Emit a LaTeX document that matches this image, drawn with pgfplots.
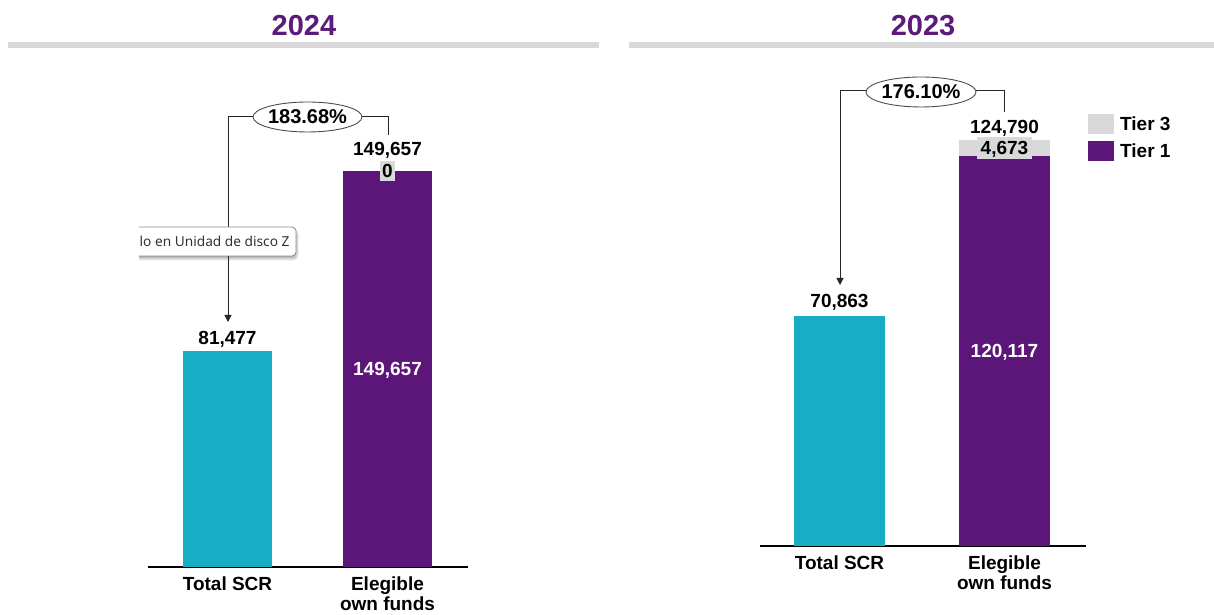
\documentclass[border=0pt]{standalone}
\usepackage{fontspec}
\setmainfont{Liberation Sans}
\newfontfamily\tipfont{Noto Sans}
\usepackage{pgfplots}
\pgfplotsset{compat=1.18}
\usetikzlibrary{arrows.meta,shadows.blur}
\definecolor{scr}{RGB}{23,173,197}
\definecolor{tierone}{RGB}{92,21,120}
\definecolor{tierthree}{RGB}{217,217,217}
\definecolor{ttl}{RGB}{92,26,123}
\definecolor{rulegray}{RGB}{217,217,217}
\newcommand\lbl{\fontsize{19}{20}\selectfont\bfseries}
\pgfplotsset{
  fundsaxis/.style={
    scale only axis, clip=false,
    ybar stacked, ymin=0,
    axis x line*=bottom, axis y line=none,
    x axis line style={-, line width=1.1pt, black},
    xtick={0,1}, xticklabels={Total SCR, {Elegible\\own funds}},
    major tick length=0pt,
    xticklabel style={align=center, font=\lbl, inner sep=0pt, yshift=-10pt},
    ytick=\empty,
  }
}
\begin{document}
\begin{tikzpicture}[x=1pt,y=1pt]
\path[use as bounding box] (0,0) rectangle (1214,615);
% titles
\fill[rulegray] (8,567) rectangle (599,573);
\fill[rulegray] (629,567) rectangle (1214,573);
\node[anchor=base, inner sep=0pt, text=ttl, font=\fontsize{29}{32}\selectfont\bfseries] at (304,579) {2024};
\node[anchor=base, inner sep=0pt, text=ttl, font=\fontsize{29}{32}\selectfont\bfseries] at (923,579) {2023};

% ---------- 2024 ----------
\begin{axis}[fundsaxis,
  at={(147.5pt,48pt)}, anchor=south west,
  width=320pt, height=507pt,
  xmin=-0.5, xmax=1.5, ymax=191465,
  bar width=0.556]
\addplot[fill=scr, draw=none, forget plot] coordinates {(0,81477) (1,0)};
\addplot[fill=tierone, draw=none] coordinates {(0,0) (1,149657)};
\addplot[fill=tierthree, draw=none] coordinates {(0,0) (1,0)};
\coordinate (La) at (axis cs:0,81477);
\coordinate (Lb) at (axis cs:1,149657);
\coordinate (Lc) at (axis cs:1,74828);
\end{axis}
\node[anchor=base, yshift=7pt, font=\lbl] at (La) {81,477};
\node[anchor=base, yshift=15pt, font=\lbl] at (Lb) {149,657};
\node[fill=tierthree, inner xsep=2.6pt, inner ysep=3.2pt, text depth=0pt, font=\lbl] at (Lb) {0};
\node[text=white, text depth=0pt, font=\lbl] at (Lc) {149,657};

% ---------- 2023 ----------
\begin{axis}[fundsaxis,
  at={(760pt,69pt)}, anchor=south west,
  width=326pt, height=486pt,
  xmin=-0.4818, xmax=1.494, ymax=149538,
  bar width=0.5515,
  reverse legend,
  legend image code/.code={\fill[#1] (0pt,-10pt) rectangle (26pt,10pt);},
  legend style={draw=none, fill=none, at={(1.006,0.889)}, anchor=north west,
    font=\lbl, row sep=7pt, column sep=6pt, inner sep=0pt,
    nodes={inner sep=0pt}},
  legend cell align=left]
\addplot[fill=scr, draw=none, forget plot] coordinates {(0,70863) (1,0)};
\addplot[fill=tierone, draw=none] coordinates {(0,0) (1,120117)};
\addplot[fill=tierthree, draw=none] coordinates {(0,0) (1,4673)};
\legend{Tier 1, Tier 3}
\coordinate (Ra) at (axis cs:0,70863);
\coordinate (Rb) at (axis cs:1,124790);
\coordinate (Rc) at (axis cs:1,122453);
\coordinate (Rd) at (axis cs:1,60058);
\end{axis}
\node[anchor=base, yshift=8pt, font=\lbl] at (Ra) {70,863};
\node[anchor=base, yshift=7pt, font=\lbl] at (Rb) {124,790};
\node[fill=tierthree, inner xsep=3.7pt, inner ysep=4pt, text depth=0pt, font=\lbl] at (Rc) {4,673};
\node[text=white, text depth=0pt, font=\lbl] at (Rd) {120,117};

% brackets
\draw[line width=1pt, black!85, -{Triangle[length=7pt,width=7pt]}] (388,480) -- (388,498) -- (228,498) -- (228,293);
\draw[line width=0.9pt, black!70, fill=white] (307.5,498) ellipse (54.5 and 15);
\node[font=\fontsize{20}{22}\selectfont\bfseries, text depth=0pt] at (307.5,498) {183.68\%};

\draw[line width=1pt, black!85, -{Triangle[length=7pt,width=7pt]}] (1004.5,503) -- (1004.5,524) -- (840,524) -- (840,330);
\draw[line width=0.9pt, black!70, fill=white] (921,523) ellipse (55 and 15);
\node[font=\fontsize{20}{22}\selectfont\bfseries, text depth=0pt] at (921,523) {176.10\%};

% tooltip
\begin{scope}
\clip (139,330) rectangle (330,400);
\draw[fill=white, draw=black!45, line width=0.8pt, rounded corners=4pt,
  blur shadow={shadow blur steps=8, shadow xshift=1pt, shadow yshift=-3pt, shadow opacity=30}]
  (110,359) rectangle (296,388);
\node[anchor=west, inner sep=0pt, font=\tipfont\fontsize{13.7}{15}\selectfont, text=black!80] at (139.5,373.5) {lo en Unidad de disco Z};
\end{scope}
\end{tikzpicture}
\end{document}
